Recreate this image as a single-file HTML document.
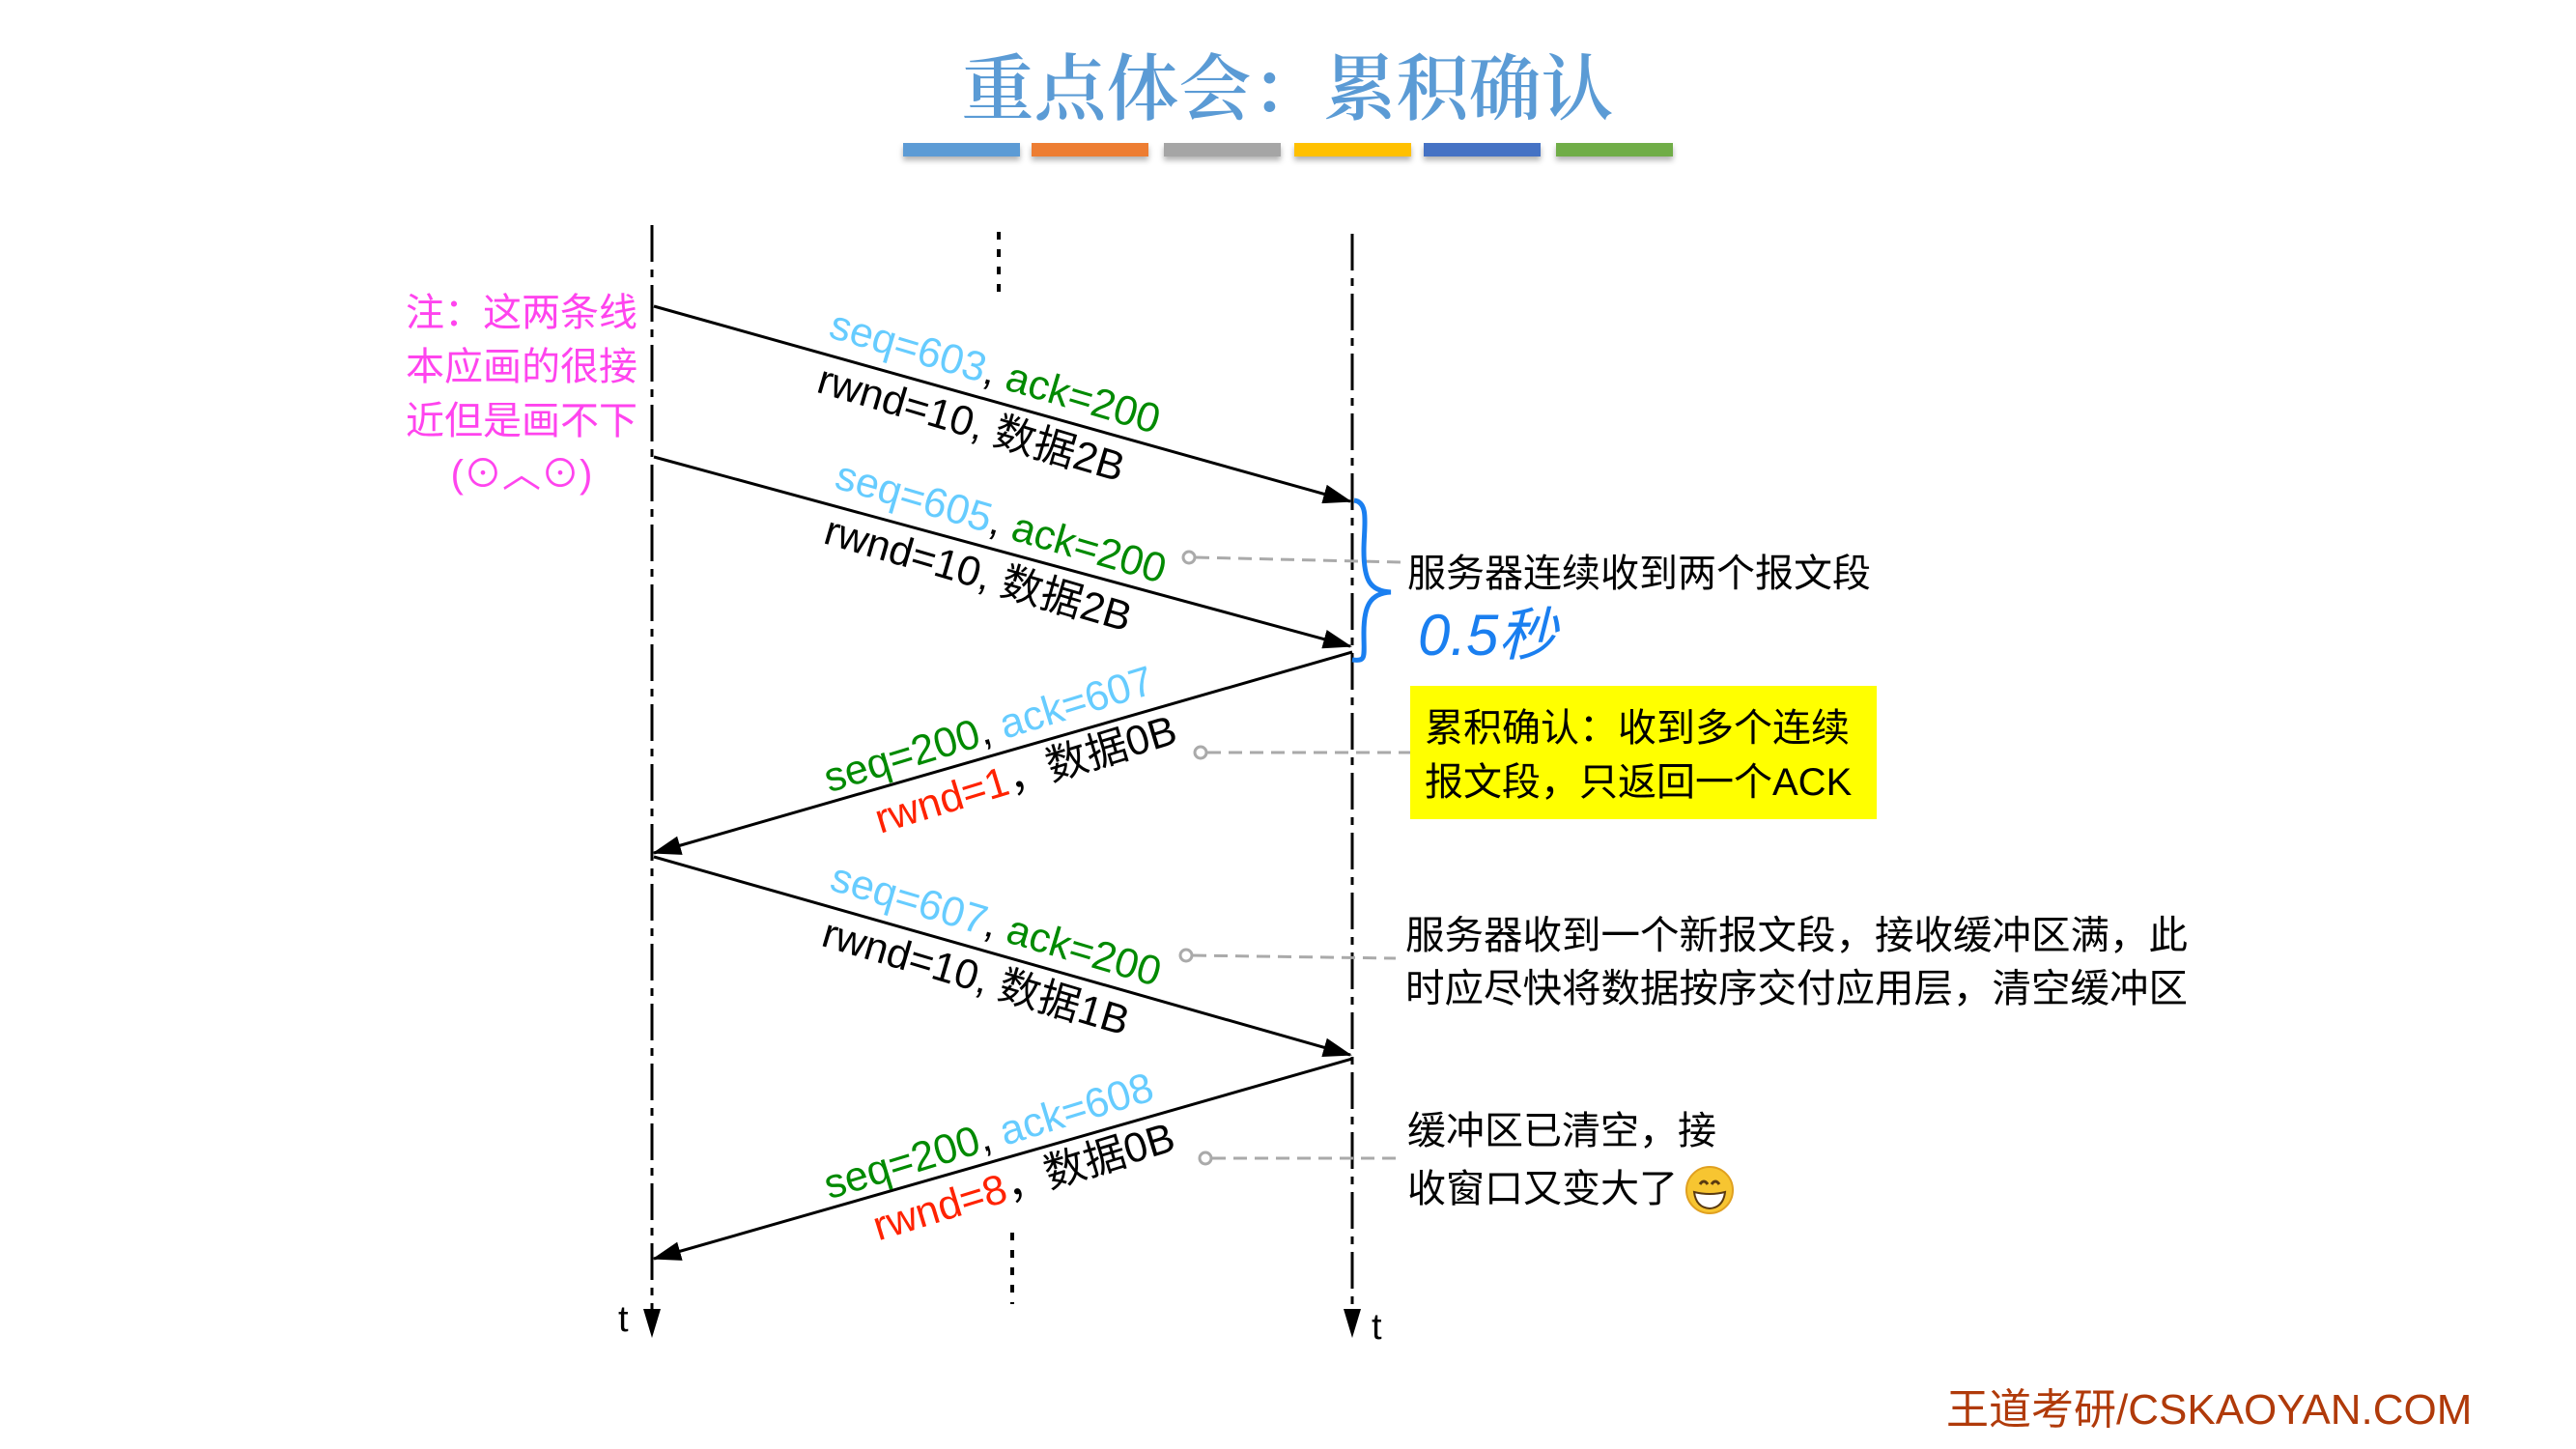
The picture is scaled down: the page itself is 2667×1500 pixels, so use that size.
<!DOCTYPE html>
<html><head><meta charset="utf-8"><style>
html,body{margin:0;padding:0;background:#fff;}
svg{display:block;}
text{font-family:"Liberation Sans","Noto Sans CJK SC",sans-serif;}
</style></head><body>
<svg width="2667" height="1500" viewBox="0 0 2667 1500" xmlns="http://www.w3.org/2000/svg">
<defs>
<marker id="ah" markerWidth="30" markerHeight="20" refX="28" refY="10" orient="auto" markerUnits="userSpaceOnUse">
<path d="M0,0 L30,10 L0,20 z" fill="#000"/></marker>
<filter id="sh" x="-10%" y="-50%" width="120%" height="250%"><feDropShadow dx="0" dy="4" stdDeviation="3" flood-color="#000" flood-opacity="0.3"/></filter>
</defs>

<text x="1333" y="118" text-anchor="middle" font-size="75" fill="#5b9bd5" style="font-family:'Noto Serif CJK SC','Liberation Serif',serif;font-weight:600">重点体会：累积确认</text>
<g filter="url(#sh)">
<rect x="935" y="148" width="121" height="14" fill="#5b9bd5"/>
<rect x="1068" y="148" width="121" height="14" fill="#ed7d31"/>
<rect x="1205" y="148" width="121" height="14" fill="#a5a5a5"/>
<rect x="1340" y="148" width="121" height="14" fill="#ffc000"/>
<rect x="1474" y="148" width="121" height="14" fill="#4472c4"/>
<rect x="1611" y="148" width="121" height="14" fill="#70ad47"/>
</g>

<line x1="675" y1="233" x2="675" y2="1360" stroke="#000" stroke-width="3" stroke-dasharray="38 8 8 8"/>
<path d="M666,1355 L684,1355 L675,1385 z" fill="#000"/>
<line x1="1400" y1="242" x2="1400" y2="1360" stroke="#000" stroke-width="3" stroke-dasharray="38 8 8 8"/>
<path d="M1391,1355 L1409,1355 L1400,1385 z" fill="#000"/>
<text x="640" y="1378" font-size="38" fill="#000">t</text>
<text x="1420" y="1386" font-size="38" fill="#000">t</text>

<line x1="1034" y1="240" x2="1034" y2="312" stroke="#000" stroke-width="4" stroke-dasharray="8 10"/>
<line x1="1048" y1="1276" x2="1048" y2="1350" stroke="#000" stroke-width="4" stroke-dasharray="8 10"/>

<g font-size="40" fill="#ff44ee" text-anchor="middle">
<text x="540" y="337">注：这两条线</text>
<text x="540" y="393">本应画的很接</text>
<text x="540" y="449">近但是画不下</text>
<text x="540" y="504">(⊙︿⊙)</text>
</g>

<g stroke="#000" stroke-width="3" fill="none">
<line x1="677" y1="317" x2="1398" y2="519" marker-end="url(#ah)"/>
<line x1="677" y1="473" x2="1398" y2="669" marker-end="url(#ah)"/>
<line x1="1400" y1="675" x2="677" y2="883" marker-end="url(#ah)"/>
<line x1="677" y1="887" x2="1398" y2="1092" marker-end="url(#ah)"/>
<line x1="1400" y1="1096" x2="677" y2="1303" marker-end="url(#ah)"/>
</g>

<g font-size="43">
<g transform="translate(852,364) rotate(16.5)">
<text x="0" y="-16"><tspan fill="#66ccff">seq=603</tspan><tspan fill="#000">, </tspan><tspan fill="#008a00">ack=200</tspan></text>
<text x="4" y="42" fill="#000">rwnd=10, 数据2B</text>
</g>
<g transform="translate(858,520) rotate(16.3)">
<text x="0" y="-16"><tspan fill="#66ccff">seq=605</tspan><tspan fill="#000">, </tspan><tspan fill="#008a00">ack=200</tspan></text>
<text x="5" y="42" fill="#000">rwnd=10, 数据2B</text>
</g>
<g transform="translate(862,832) rotate(-17)">
<text x="0" y="-12"><tspan fill="#008a00">seq=200</tspan><tspan fill="#000">, </tspan><tspan fill="#66ccff">ack=607</tspan></text>
<text x="38" y="44"><tspan fill="#ff2200">rwnd=1</tspan><tspan fill="#000">，数据0B</tspan></text>
</g>
<g transform="translate(853,936) rotate(16.5)">
<text x="0" y="-16"><tspan fill="#66ccff">seq=607</tspan><tspan fill="#000">, </tspan><tspan fill="#008a00">ack=200</tspan></text>
<text x="8" y="42" fill="#000">rwnd=10, 数据1B</text>
</g>
<g transform="translate(862,1253) rotate(-17)">
<text x="0" y="-12"><tspan fill="#008a00">seq=200</tspan><tspan fill="#000">, </tspan><tspan fill="#66ccff">ack=608</tspan></text>
<text x="36" y="44"><tspan fill="#ff2200">rwnd=8</tspan><tspan fill="#000">，数据0B</tspan></text>
</g>
</g>

<g stroke="#aaa" stroke-width="3" fill="#fff">
<line x1="1238" y1="577" x2="1450" y2="582" stroke-dasharray="14 8"/>
<circle cx="1231" cy="577" r="6"/>
<line x1="1250" y1="779" x2="1460" y2="779" stroke-dasharray="14 8"/>
<circle cx="1243" cy="779" r="6"/>
<line x1="1235" y1="989" x2="1445" y2="992" stroke-dasharray="14 8"/>
<circle cx="1228" cy="989" r="6"/>
<line x1="1255" y1="1199" x2="1445" y2="1199" stroke-dasharray="14 8"/>
<circle cx="1248" cy="1199" r="6"/>
</g>

<path d="M1402,518 C1418,520 1412,545 1412,570 C1412,600 1418,612 1440,613 C1418,614 1412,628 1412,655 C1412,680 1415,685 1400,683" stroke="#1a7ff0" stroke-width="5" fill="none"/>
<text x="1468" y="678" font-size="60" fill="#1a7ff0" font-style="italic">0.5秒</text>

<g font-size="40" fill="#000">
<text x="1457" y="607">服务器连续收到两个报文段</text>
<rect x="1460" y="710" width="483" height="138" fill="#ffff00"/>
<text x="1475" y="767">累积确认：收到多个连续</text>
<text x="1475" y="823">报文段，只返回一个ACK</text>
<text x="1455" y="982" font-size="40.5">服务器收到一个新报文段，接收缓冲区满，此</text>
<text x="1455" y="1037" font-size="40.5">时应尽快将数据按序交付应用层，清空缓冲区</text>
<text x="1457" y="1184">缓冲区已清空，接</text>
<text x="1457" y="1244">收窗口又变大了</text>
</g>
<g transform="translate(1770,1232)">
<circle r="24" fill="#f7c531" stroke="#e0a020" stroke-width="2"/>
<path d="M-10,-6 q4,-6 8,0 M2,-6 q4,-6 8,0" stroke="#5a3a10" stroke-width="3" fill="none"/>
<path d="M-16,2 Q0,6 16,2 Q14,18 0,19 Q-14,18 -16,2 z" fill="#fff" stroke="#5a3a10" stroke-width="2"/>
</g>

<text x="2015" y="1474" font-size="44" fill="#b03a0a">王道考研/CSKAOYAN.COM</text>
</svg>
</body></html>
